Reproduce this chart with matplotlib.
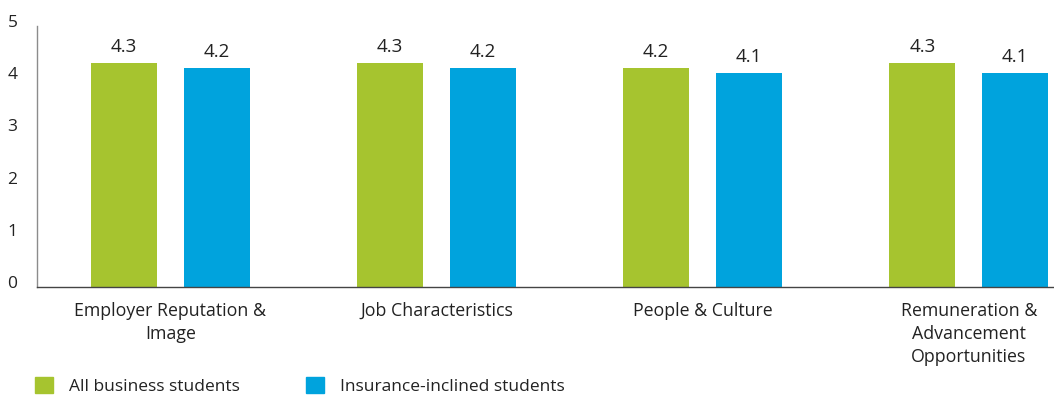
import matplotlib
matplotlib.use("Agg")
import matplotlib.pyplot as plt
import matplotlib.transforms as mtransforms
from matplotlib.patches import Patch
import numpy as np

categories = [
    "Employer Reputation &\nImage",
    "Job Characteristics",
    "People & Culture",
    "Remuneration &\nAdvancement\nOpportunities",
]
all_business = [4.3, 4.3, 4.2, 4.3]
insurance_inclined = [4.2, 4.2, 4.1, 4.1]
series_names = ["All business students", "Insurance-inclined students"]
y_ticks = [0, 1, 2, 3, 4, 5]

GREEN = "#a6c42f"
BLUE = "#00a3dd"
TEXT = "#222222"

plt.rcParams["font.family"] = ["Open Sans", "DejaVu Sans"]

fig = plt.figure(figsize=(10.54, 3.96), dpi=100)
ax = fig.add_axes([37 / 1054, 109 / 396, 1 - 37 / 1054, 261 / 396])

x = np.arange(len(categories))
width = 0.248
offset = 0.1746
bars_a = ax.bar(x - offset, all_business, width, color=GREEN)
bars_b = ax.bar(x + offset, insurance_inclined, width, color=BLUE)

for bars in (bars_a, bars_b):
    ax.bar_label(bars, labels=[f"{v:.1f}" for v in bars.datavalues],
                 padding=5, fontsize=13.5, color=TEXT)

ax.set_xlim(-0.501, 3.32)
ax.set_ylim(0, 5)
ax.set_yticks(y_ticks)
ax.set_xticks(x)
ax.set_xticklabels(categories, fontsize=12.8, color=TEXT, linespacing=1.33)
ax.tick_params(axis="y", length=0, pad=14, labelsize=12.5, labelcolor=TEXT)
ax.tick_params(axis="x", length=0, pad=11)

# tick labels in the reference sit a few pixels above their ticks
shift = mtransforms.ScaledTranslation(0, 5 / 100, fig.dpi_scale_trans)
for lab in ax.get_yticklabels():
    lab.set_transform(lab.get_transform() + shift)

for side in ("top", "right"):
    ax.spines[side].set_visible(False)
ax.spines["left"].set_color("#8c8c8c")
ax.spines["left"].set_linewidth(1.0)
ax.spines["bottom"].set_color("#444444")
ax.spines["bottom"].set_linewidth(1.0)

handles = [Patch(color=GREEN), Patch(color=BLUE)]
fig.legend(handles, series_names, loc="center left", bbox_to_anchor=(35 / 1054, 10 / 396),
           ncol=2, frameon=False, fontsize=12.5, handlelength=1.03, handleheight=1.03,
           handletextpad=0.92, columnspacing=3.8, borderpad=0, borderaxespad=0,
           labelcolor=TEXT)

fig.savefig("out.png", dpi=100)
